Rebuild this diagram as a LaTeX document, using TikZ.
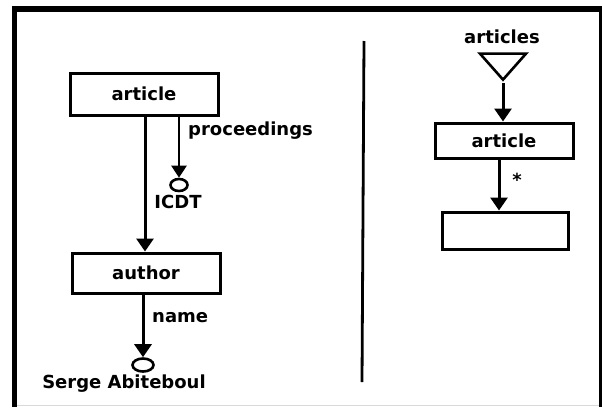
\documentclass[tikz,border=0pt]{standalone}
\usepackage{fontspec}
\setmainfont{DejaVu Sans}
\usetikzlibrary{arrows.meta,shapes.geometric}
\begin{document}
\begin{tikzpicture}[x=1pt,y=-1pt,
  lbl/.style={font=\fontsize{18}{21}\selectfont\bfseries, inner sep=0pt},
  elem/.style={draw, line width=3pt, inner sep=0pt, lbl},
  leaf/.style={draw, ellipse, line width=2.6pt, inner sep=0pt},
  link/.style={line width=3pt, -{Triangle[width=17pt,length=13pt]}},
  thinlink/.style={line width=2.4pt, -{Triangle[width=15pt,length=12pt]}}
]
% canvas and frame
\fill[white] (0,0) rectangle (602,407);
\useasboundingbox (0,0) rectangle (602,407);
\fill[black] (12,6) rectangle (602,12);
\fill[black] (12,6) rectangle (17,407);
\fill[black] (599,6) rectangle (602,407);
\draw[black!15, line width=1pt] (17,405) -- (599,405);

% left tree: an article with its proceedings and author
\node[elem, minimum width=148pt, minimum height=42pt] (art) at (144,94) {article};
\node[elem, minimum width=148pt, minimum height=40pt] (auth) at (146,273) {author};
\node[leaf, minimum width=17pt, minimum height=12pt] (icdt) at (179,185) {};
\node[leaf, minimum width=21pt, minimum height=13pt] (serge) at (143,365) {};
\node[lbl, anchor=west] (proc) at (188,131) {proceedings};
\node[lbl] (icdtl) at (178,202) {ICDT};
\node[lbl, anchor=west] (namel) at (152,318) {name};
\node[lbl] (sergel) at (124,384) {Serge Abiteboul};

\draw[link] (art.south -| 145,0) -- (auth.north -| 145,0);
\draw[thinlink] (art.south -| icdt.north) -- (icdt.north);
\draw[link] (auth.south -| serge.north) -- (serge.north);

% separator
\coordinate (sepa) at (364,41);
\coordinate (sepb) at (362,382);
\draw[line width=2.8pt] (sepa) -- (sepb);

% right tree: articles root with a starred child
\node[lbl] (rootl) at (502,37) {articles};
\node[draw, isosceles triangle, isosceles triangle stretches, shape border rotate=-90,
      minimum width=46pt, minimum height=26pt, inner sep=0pt, line width=2.6pt] (root) at (503,64) {};
\node[elem, minimum width=138pt, minimum height=35pt] (art2) at (504,140.5) {article};
\node[elem, minimum width=126pt, minimum height=37pt] (child) at (505,230.5) {};
\node[lbl] (star) at (517,180) {*};

\draw[link] (root.apex) -- (art2.north -| root.apex);
\draw[link] (art2.south -| 499,0) -- (child.north -| 499,0);
\end{tikzpicture}
\end{document}
